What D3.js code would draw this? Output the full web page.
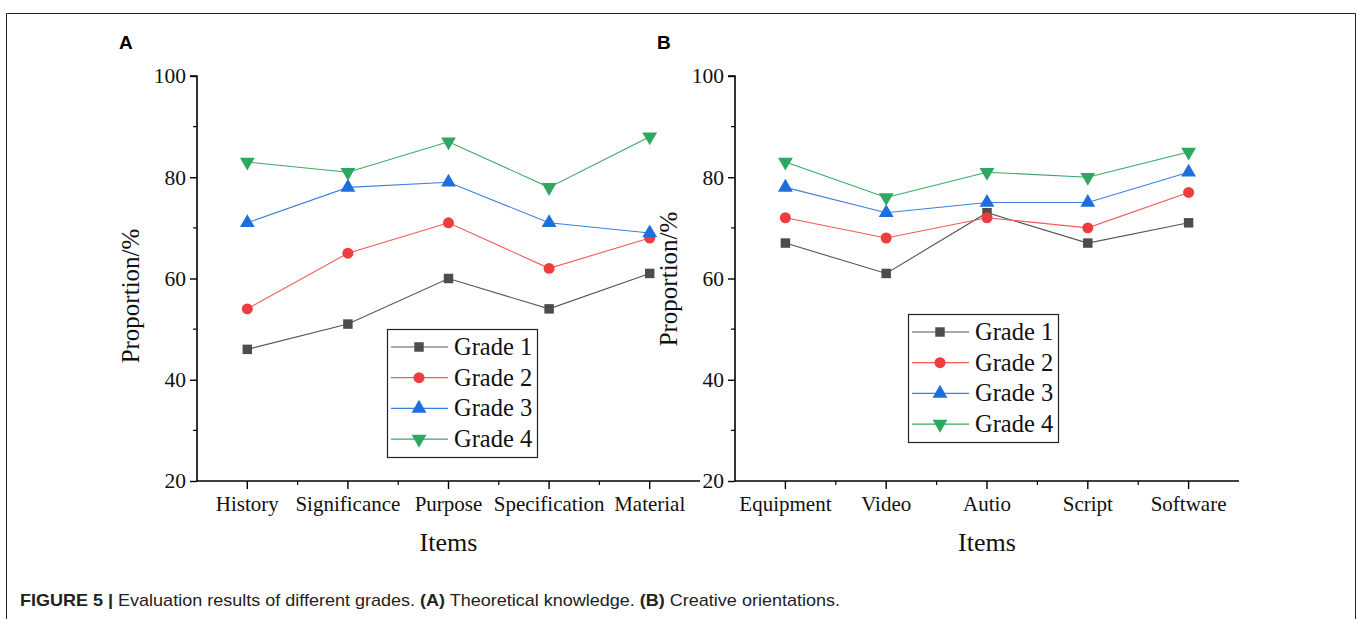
<!doctype html>
<html>
<head>
<meta charset="utf-8">
<script src="https://d3js.org/d3.v7.min.js"></script>
<style>
  body { margin: 0; background: #fff; }
  svg { display: block; }
</style>
</head>
<body>
<svg id="fig" width="1357" height="619"></svg>
<script>
const gradeNames = ['Grade 1', 'Grade 2', 'Grade 3', 'Grade 4'];
const itemsA = ['History', 'Significance', 'Purpose', 'Specification', 'Material'];
const itemsB = ['Equipment', 'Video', 'Autio', 'Script', 'Software'];

// one array per grade, in item order
const grade1A = [46, 51, 60, 54, 61];
const grade2A = [54, 65, 71, 62, 68];
const grade3A = [71, 78, 79, 71, 69];
const grade4A = [83, 81, 87, 78, 88];

const grade1B = [67, 61, 73, 67, 71];
const grade2B = [72, 68, 72, 70, 77];
const grade3B = [78, 73, 75, 75, 81];
const grade4B = [83, 76, 81, 80, 85];

const yTicks = [20, 40, 60, 80, 100];
const yMinor = [30, 50, 70, 90];

const colors = ['#4d4d4d', '#ef3d3f', '#1c6fdc', '#2ea860'];
const lineColors = ['#555', '#f05a5a', '#3a80e0', '#3aa865'];
const symbols = [d3.symbolSquare, d3.symbolCircle, d3.symbolTriangle, d3.symbolTriangle];
const symSize = [90, 95, 95, 95];
const symRot = [0, 0, 0, 180];

const svg = d3.select('#fig');
const serif = '"Liberation Serif", "Times New Roman", serif';

// figure frame
svg.append('path')
  .attr('d', 'M6.5,640 V13.5 H1355.5 V640')
  .attr('fill', 'none').attr('stroke', '#222').attr('stroke-width', 1);

function panel(opts) {
  const { x0, x1, letter, items, series, legendX, legendY, ylabelY } = opts;
  const g = svg.append('g');
  const x = d3.scaleBand().domain(items).range([x0, x1]);
  const y = d3.scaleLinear().domain([20, 100]).range([481, 76]);
  const cx = d => x(d) + x.bandwidth() / 2;

  // y axis
  const yAxis = d3.axisLeft(y).tickValues(yTicks).tickSize(7).tickPadding(4);
  const ya = g.append('g').attr('transform', `translate(${x0},0)`).call(yAxis);
  ya.select('.domain').attr('d', `M-7,${y(100)}H0V${y(20)}`).attr('stroke-width', 1.6);
  ya.selectAll('.tick line').attr('stroke-width', 1.4);
  ya.selectAll('.tick text').attr('font-family', serif).attr('font-size', 21.5).attr('fill', '#111');
  g.append('g').selectAll('line').data(yMinor).join('line')
    .attr('x1', x0 - 4).attr('x2', x0).attr('y1', d => y(d)).attr('y2', d => y(d))
    .attr('stroke', '#000').attr('stroke-width', 1.2);

  // x axis
  const xa = g.append('g').attr('transform', 'translate(0,481)')
    .call(d3.axisBottom(x).tickSize(8).tickPadding(7));
  xa.select('.domain').attr('d', `M${x0},0H${x1}`).attr('stroke-width', 1.6);
  xa.selectAll('.tick line').attr('stroke-width', 1.4);
  xa.selectAll('.tick text').attr('font-family', serif).attr('font-size', 21).attr('fill', '#111');
  g.append('g').selectAll('line').data(items.slice(1)).join('line')
    .attr('x1', d => x(d)).attr('x2', d => x(d)).attr('y1', 481).attr('y2', 485)
    .attr('stroke', '#000').attr('stroke-width', 1.2);

  // axis titles
  g.append('text').attr('x', (x0 + x1) / 2).attr('y', 551)
    .attr('text-anchor', 'middle').attr('font-family', serif).attr('font-size', 26)
    .attr('fill', '#111').text('Items');
  g.append('text').attr('transform', `translate(${x0 - 58},${ylabelY}) rotate(-90)`)
    .attr('text-anchor', 'middle').attr('font-family', serif).attr('font-size', 25)
    .attr('fill', '#111').text('Proportion/%');

  g.append('text').attr('x', x0 - 78).attr('y', 49)
    .attr('font-family', 'Liberation Sans, Arial, sans-serif').attr('font-weight', 'bold')
    .attr('font-size', 19).attr('fill', '#000').text(letter);

  // series
  const line = d3.line().x((d, i) => cx(items[i])).y(d => y(d));
  series.forEach((vals, s) => {
    g.append('path').datum(vals).attr('d', line)
      .attr('fill', 'none').attr('stroke', lineColors[s]).attr('stroke-width', 1.1);
  });
  series.forEach((vals, s) => {
    g.append('g').selectAll('path').data(vals).join('path')
      .attr('transform', (d, i) => `translate(${cx(items[i])},${y(d)}) rotate(${symRot[s]})`)
      .attr('d', d3.symbol(symbols[s], symSize[s]))
      .attr('fill', colors[s]);
  });

  // legend
  const lg = g.append('g').attr('transform', `translate(${legendX},${legendY})`);
  lg.append('rect').attr('x', 0.5).attr('y', 0.5).attr('width', 150).attr('height', 128)
    .attr('fill', '#fff').attr('stroke', '#222').attr('stroke-width', 1.2);
  gradeNames.forEach((name, s) => {
    const ly = 18 + s * 30.7;
    lg.append('line').attr('x1', 4).attr('x2', 61).attr('y1', ly).attr('y2', ly)
      .attr('stroke', lineColors[s]).attr('stroke-width', 1.2);
    lg.append('path').attr('transform', `translate(32,${ly}) rotate(${symRot[s]})`)
      .attr('d', d3.symbol(symbols[s], symSize[s])).attr('fill', colors[s]);
    lg.append('text').attr('x', 67).attr('y', ly + 8)
      .attr('font-family', serif).attr('font-size', 24.5).attr('fill', '#111').text(name);
  });
}

panel({ x0: 197, x1: 700, letter: 'A', items: itemsA,
  series: [grade1A, grade2A, grade3A, grade4A], legendX: 387, legendY: 329, ylabelY: 296 });
panel({ x0: 735, x1: 1239, letter: 'B', items: itemsB,
  series: [grade1B, grade2B, grade3B, grade4B], legendX: 908, legendY: 314, ylabelY: 279 });

// caption
const cap = svg.append('text').attr('x', 20).attr('y', 606)
  .attr('font-family', '"Liberation Sans Narrow", "Liberation Sans", Arial, sans-serif')
  .attr('font-size', 17).attr('fill', '#222')
  .attr('textLength', 820).attr('lengthAdjust', 'spacingAndGlyphs');
cap.append('tspan').attr('font-weight', 'bold').text('FIGURE 5 | ');
cap.append('tspan').text('Evaluation results of different grades. ');
cap.append('tspan').attr('font-weight', 'bold').text('(A)');
cap.append('tspan').text(' Theoretical knowledge. ');
cap.append('tspan').attr('font-weight', 'bold').text('(B)');
cap.append('tspan').text(' Creative orientations.');
</script>
</body>
</html>
